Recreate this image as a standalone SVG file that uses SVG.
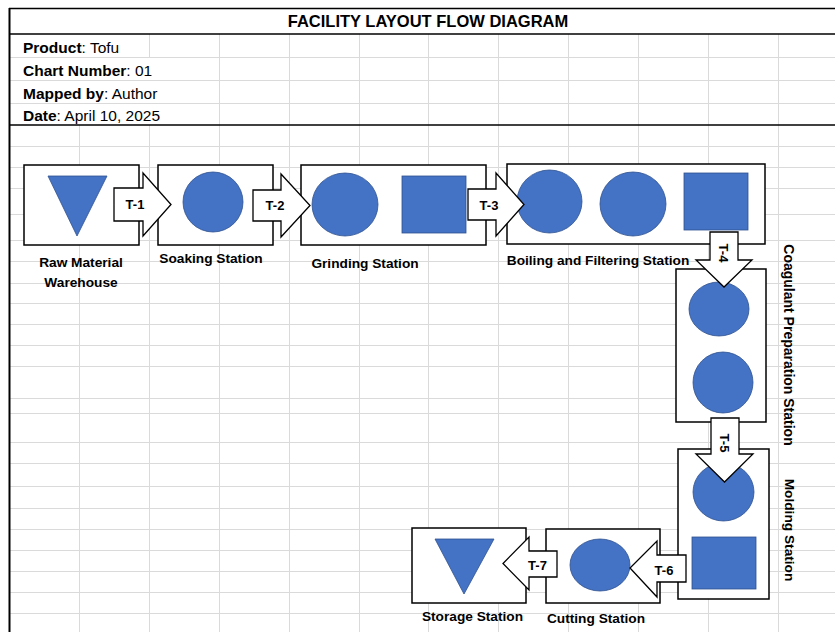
<svg xmlns="http://www.w3.org/2000/svg" width="835" height="632" viewBox="0 0 835 632">
<style>
.grid line{stroke:#dadada;stroke-width:1}
.frame{stroke:#000;stroke-width:1.5;fill:none}
.box{fill:#fff;stroke:#000;stroke-width:1.5}
.blue{fill:#4472C4;stroke:#2F528F;stroke-width:0.8}
.arrow{fill:#fff;stroke:#000;stroke-width:1.3;stroke-linejoin:miter}
.lbl{font-family:"Liberation Sans",Arial,sans-serif;font-weight:bold;font-size:13.7px;fill:#000;text-anchor:middle}
.tl{font-family:"Liberation Sans",Arial,sans-serif;font-weight:bold;font-size:13px;fill:#000;text-anchor:middle}
.hd{font-family:"Liberation Sans",Arial,sans-serif;font-size:15.5px;fill:#000}
.hd tspan.b{font-weight:bold}
.title{font-family:"Liberation Sans",Arial,sans-serif;font-weight:bold;font-size:16.5px;fill:#000;text-anchor:middle}
</style>
<rect width="835" height="632" fill="#fff"/>
<g class="grid">
<line x1="9" y1="57.5" x2="835" y2="57.5"/>
<line x1="9" y1="80.5" x2="835" y2="80.5"/>
<line x1="9" y1="103.5" x2="835" y2="103.5"/>
<line x1="9" y1="146.5" x2="835" y2="146.5"/>
<line x1="9" y1="167.5" x2="835" y2="167.5"/>
<line x1="9" y1="188.5" x2="835" y2="188.5"/>
<line x1="9" y1="214.5" x2="835" y2="214.5"/>
<line x1="9" y1="240.5" x2="835" y2="240.5"/>
<line x1="9" y1="261.5" x2="835" y2="261.5"/>
<line x1="9" y1="283.5" x2="835" y2="283.5"/>
<line x1="9" y1="303.5" x2="835" y2="303.5"/>
<line x1="9" y1="324.5" x2="835" y2="324.5"/>
<line x1="9" y1="345.5" x2="835" y2="345.5"/>
<line x1="9" y1="366.5" x2="835" y2="366.5"/>
<line x1="9" y1="398.5" x2="835" y2="398.5"/>
<line x1="9" y1="413.5" x2="835" y2="413.5"/>
<line x1="9" y1="442.5" x2="835" y2="442.5"/>
<line x1="9" y1="463.5" x2="835" y2="463.5"/>
<line x1="9" y1="486.5" x2="835" y2="486.5"/>
<line x1="9" y1="508.5" x2="835" y2="508.5"/>
<line x1="9" y1="529.5" x2="835" y2="529.5"/>
<line x1="9" y1="550.5" x2="835" y2="550.5"/>
<line x1="9" y1="571.5" x2="835" y2="571.5"/>
<line x1="9" y1="592.5" x2="835" y2="592.5"/>
<line x1="9" y1="613.5" x2="835" y2="613.5"/>
<line x1="79.5" y1="125" x2="79.5" y2="632"/>
<line x1="149.5" y1="34" x2="149.5" y2="57"/>
<line x1="149.5" y1="125" x2="149.5" y2="632"/>
<line x1="219.5" y1="34" x2="219.5" y2="632"/>
<line x1="289.5" y1="34" x2="289.5" y2="632"/>
<line x1="359.5" y1="34" x2="359.5" y2="632"/>
<line x1="428.5" y1="34" x2="428.5" y2="632"/>
<line x1="498.5" y1="34" x2="498.5" y2="632"/>
<line x1="568.5" y1="34" x2="568.5" y2="632"/>
<line x1="638.5" y1="34" x2="638.5" y2="632"/>
<line x1="708.5" y1="34" x2="708.5" y2="632"/>
<line x1="778.5" y1="34" x2="778.5" y2="632"/>
</g>
<g id="header">
<line class="frame" x1="9" y1="8.5" x2="835" y2="8.5"/>
<line class="frame" x1="9" y1="34" x2="835" y2="34"/>
<line class="frame" x1="9" y1="125" x2="835" y2="125"/>
<line x1="9.5" y1="8" x2="9.5" y2="632" stroke="#000" stroke-width="2"/>
<text class="title" x="428" y="27">FACILITY LAYOUT FLOW DIAGRAM</text>
<text class="hd" x="23" y="53"><tspan class="b">Product</tspan>: Tofu</text>
<text class="hd" x="23" y="76"><tspan class="b">Chart Number</tspan>: 01</text>
<text class="hd" x="23" y="99"><tspan class="b">Mapped by</tspan>: Author</text>
<text class="hd" x="23" y="121"><tspan class="b">Date</tspan>: April 10, 2025</text>
</g>
<g id="raw-material-warehouse">
<rect class="box" x="24" y="165" width="115" height="80"/>
<polygon class="blue" points="48,176 107,176 77,236"/>
<text class="lbl" x="81" y="267">Raw Material</text>
<text class="lbl" x="81" y="287">Warehouse</text>
</g>
<g id="soaking-station">
<rect class="box" x="158" y="165" width="115" height="80"/>
<circle class="blue" cx="213" cy="202" r="30"/>
<text class="lbl" x="211" y="263">Soaking Station</text>
</g>
<g id="grinding-station">
<rect class="box" x="301" y="165" width="185" height="80"/>
<ellipse class="blue" cx="345" cy="204.5" rx="33" ry="31.5"/>
<rect class="blue" x="402" y="176" width="64" height="57"/>
<text class="lbl" x="365" y="268">Grinding Station</text>
</g>
<g id="boiling-filtering-station">
<rect class="box" x="507" y="164" width="258" height="80"/>
<ellipse class="blue" cx="549.5" cy="201.5" rx="32.5" ry="31.5"/>
<ellipse class="blue" cx="633" cy="204" rx="33" ry="32"/>
<rect class="blue" x="684" y="173" width="64" height="57"/>
<text class="lbl" x="598" y="265">Boiling and Filtering Station</text>
</g>
<g id="coagulant-preparation-station">
<rect class="box" x="676" y="269" width="90" height="153"/>
<ellipse class="blue" cx="719" cy="309" rx="30" ry="27"/>
<ellipse class="blue" cx="723" cy="382.5" rx="30" ry="30.5"/>
<text class="lbl" transform="translate(784,345) rotate(90)" style="font-size:14px">Coagulant Preparation Station</text>
</g>
<g id="molding-station">
<rect class="box" x="678" y="449" width="91" height="150"/>
<ellipse class="blue" cx="723.5" cy="492" rx="30.5" ry="29"/>
<rect class="blue" x="692" y="537" width="64" height="52"/>
<text class="lbl" transform="translate(785,530) rotate(90)">Molding Station</text>
</g>
<g id="cutting-station">
<rect class="box" x="546" y="529" width="114" height="74"/>
<ellipse class="blue" cx="600" cy="565" rx="30" ry="26"/>
<text class="lbl" x="596" y="623">Cutting Station</text>
</g>
<g id="storage-station">
<rect class="box" x="412" y="528" width="114" height="75"/>
<polygon class="blue" points="435,539 494,539 464,594"/>
<text class="lbl" x="472.5" y="621">Storage Station</text>
</g>
<g id="connectors">
<g id="T-1"><polygon class="arrow" points="114,188 143,188 143,173 171,204.5 143,236 143,221 114,221"/><text class="tl" x="135" y="209">T-1</text></g>
<g id="T-2"><polygon class="arrow" points="253,190 281,190 281,174 310,205.5 281,237 281,221 253,221"/><text class="tl" x="275" y="210">T-2</text></g>
<g id="T-3"><polygon class="arrow" points="468,189 496,189 496,173 524,204.5 496,236 496,220 468,220"/><text class="tl" x="489" y="210">T-3</text></g>
<g id="T-4"><polygon class="arrow" points="710,232 738,232 738,260 752,260 724,287 696,260 710,260"/><text class="tl" transform="translate(719,253) rotate(90)">T-4</text></g>
<g id="T-5"><polygon class="arrow" points="711,418 739,418 739,454 753,454 724.5,482 696,454 711,454"/><text class="tl" transform="translate(720,443) rotate(90)">T-5</text></g>
<g id="T-6"><polygon class="arrow" points="686,555 657,555 657,541 630,568 657,597 657,582 686,582"/><text class="tl" x="664" y="575">T-6</text></g>
<g id="T-7"><polygon class="arrow" points="557,551 529,551 529,537 503,563.5 529,590 529,577 557,577"/><text class="tl" x="537.5" y="570">T-7</text></g>
</g>
</svg>
